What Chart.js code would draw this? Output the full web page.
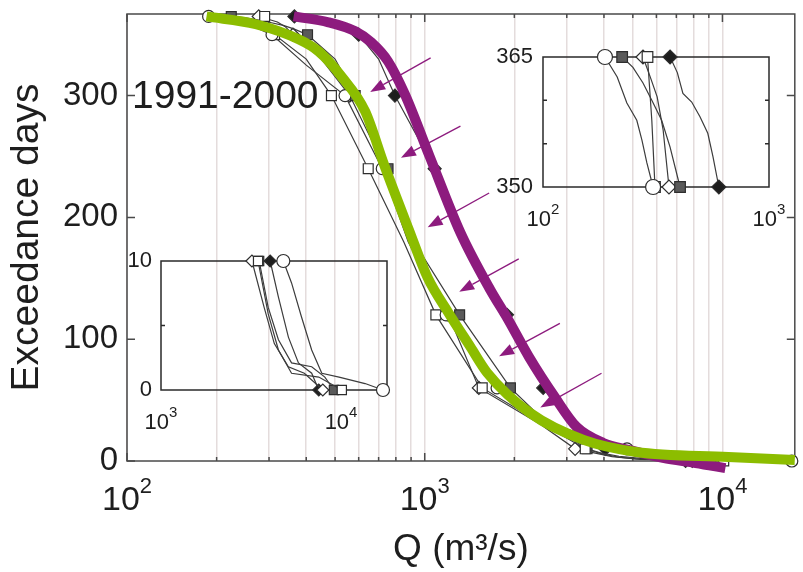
<!DOCTYPE html>
<html lang="en">
<head>
<meta charset="utf-8">
<title>Exceedance days 1991-2000</title>
<script src="https://cdn.jsdelivr.net/npm/chart.js@4.4.1/dist/chart.umd.min.js"></script>
<style>
    html, body { margin: 0; padding: 0; background: #ffffff; }
    #wrap { position: relative; width: 803px; height: 572px; overflow: hidden; }
    #wrap canvas { position: absolute; }
    #main { left: 0; top: 0; }
    #inset-high { left: 483px; top: 37px; }
    #inset-low { left: 100px; top: 241px; }
</style>
</head>
<body>
<div id="wrap">
    <canvas id="main" width="803" height="572"></canvas>
    <canvas id="inset-high" width="320" height="208"></canvas>
    <canvas id="inset-low" width="310" height="200"></canvas>
</div>
<script>
'use strict';

// days on which station markers are shown
const markerDays = [365, 350, 300, 240, 120, 60, 10, 0];

// station curves: discharge (m3/s) vs exceedance days
const circleQ = [188, 213, 235, 260, 274, 288, 307, 400, 540, 720, 880, 1180, 1450, 1750, 2700, 4780, 5310, 6020, 6870, 7820, 9750, 13600, 17100];
const circleDays = [365, 362.7, 359.7, 357.7, 355.4, 352.8, 350, 325, 300, 240, 180, 120, 85, 60, 30, 10, 8.3, 5.7, 3.1, 1.3, 1.0, 0.5, 0];

const squareQ = [290, 303, 313, 400, 486, 646, 850, 1090, 1560, 2500, 3460, 3940, 4490, 5310, 7520, 10100];
const squareDays = [365, 357.7, 350, 330, 300, 240, 180, 120, 60, 30, 10, 5.9, 3.1, 1.3, 1.0, 0];

const fsquareQ = [224, 250, 277, 303, 335, 365, 404, 500, 584, 753, 920, 1310, 1940, 2600, 3510, 3940, 4490, 5310, 6870, 8130, 9130];
const fsquareDays = [365, 363.8, 362, 360, 357.7, 354.6, 350, 330, 300, 240, 180, 120, 60, 30, 10, 6.4, 3.9, 2.1, 1.8, 1.0, 0];

const diamondQ = [277, 300, 320, 340, 361, 450, 560, 740, 900, 1200, 1520, 2450, 3200, 3740, 4260, 5100, 6250, 7920];
const diamondDays = [365, 362.5, 360.4, 356.6, 350, 330, 300, 240, 180, 120, 60, 30, 10, 6.4, 3.6, 1.8, 1.3, 0];

const kdiamondQ = [365, 393, 416, 455, 495, 536, 565, 600, 700, 794, 1080, 1400, 1890, 2500, 3100, 4040, 4490, 5100, 5800, 6870, 7520];
const kdiamondDays = [365, 363.2, 360.8, 359.8, 358.1, 356.2, 353.5, 350, 330, 300, 240, 180, 120, 60, 30, 10, 7.2, 4.1, 2.1, 1.3, 0];

// fitted curves
const greenQ = [185, 271, 377, 440, 525, 631, 730, 884, 1023, 1202, 1423, 1622, 2257, 3415, 5129, 10470, 17500];
const greenDays = [365, 358.6, 346.2, 336.3, 315.8, 287, 243.4, 190, 150.5, 121.7, 93.8, 72.4, 39.5, 17.3, 7.4, 3.3, 0.8];

const purpleQ = [363, 475, 584, 661, 753, 858, 1039, 1318, 1660, 1891, 2239, 2733, 3236, 3981, 4863, 6310, 8128, 10230];
const purpleDays = [365, 360.2, 352.8, 343.8, 328.1, 301, 250, 187.5, 140.6, 117.6, 85.5, 52.6, 28, 14.8, 9.0, 2.5, -1.6, -5.8];

// arrows (tail -> head)
const arrowFromQ = [1047, 1318, 1646, 2069, 2844, 3925];
const arrowFromDays = [331, 275, 220, 166, 113, 72];
const arrowToQ = [656, 832, 1023, 1306, 1778, 2444];
const arrowToDays = [303, 249, 192, 139, 86, 44];

// axes
const qDecades = [100, 1000, 10000];
const dayTicks = [0, 100, 200, 300];
const highDayTicks = [350, 365];
const lowDayTicks = [0, 10];

const purple = '#8d1b7e';
const green = '#8cbd00';
const ink = '#1e1e1e';

Chart.defaults.font.family = '"Liberation Sans", Arial, Helvetica, sans-serif';
Chart.defaults.color = ink;

let stations = [
    { q: circleQ, days: circleDays, marker: 'circle', fill: '#ffffff' },
    { q: squareQ, days: squareDays, marker: 'rect', fill: '#ffffff' },
    { q: fsquareQ, days: fsquareDays, marker: 'rect', fill: '#5a5a5a' },
    { q: diamondQ, days: diamondDays, marker: 'rectRot', fill: '#ffffff' },
    { q: kdiamondQ, days: kdiamondDays, marker: 'rectRot', fill: '#1e1e1e' }
];

function toPoints(q, days) {
    return q.map((v, i) => ({ x: v, y: days[i] }));
}

// minor log grid values 1..9 x 10^n inside [min, max]
function logGrid(min, max) {
    let out = [];
    qDecades.forEach(function(d) {
        for (let k = 1; k <= 9; k++) {
            let v = d * k;
            if (v >= min && v <= max) out.push(v);
        }
    });
    return out;
}

function stationDatasets(keep, size) {
    return stations.map(function(s) {
        return {
            data: toPoints(s.q, s.days).filter(p => keep(p.y)),
            borderColor: '#3c3c3c',
            borderWidth: 1.2,
            pointStyle: s.marker,
            pointBackgroundColor: s.fill,
            pointBorderColor: '#2e2e2e',
            pointBorderWidth: 1.2,
            pointRadius: ctx => (ctx.raw && markerDays.includes(ctx.raw.y)) ? size[s.marker] : 0,
            pointHoverRadius: 0,
            tension: 0,
            clip: false,
            order: 2
        };
    });
}

// frame, inward ticks and 10^n labels
function axisDecor(o) {
    return {
        id: 'axisDecor',
        beforeDatasetsDraw(chart) {
            const { ctx, chartArea: a, scales: { x, y } } = chart;
            ctx.save();
            ctx.strokeStyle = o.frameColor;
            ctx.lineWidth = o.frameWidth;
            ctx.strokeRect(a.left, a.top, a.right - a.left, a.bottom - a.top);
            ctx.beginPath();
            o.xTicks.forEach(function(v) {
                let px = x.getPixelForValue(v);
                let len = qDecades.includes(v) ? o.majorLen : o.minorLen;
                ctx.moveTo(px, a.bottom); ctx.lineTo(px, a.bottom - len);
                ctx.moveTo(px, a.top); ctx.lineTo(px, a.top + len);
            });
            o.yTicks.forEach(function(v) {
                let py = y.getPixelForValue(v);
                ctx.moveTo(a.left, py); ctx.lineTo(a.left + o.majorLen, py);
                ctx.moveTo(a.right, py); ctx.lineTo(a.right - o.majorLen, py);
            });
            ctx.stroke();
            ctx.restore();
        },
        afterDraw(chart) {
            const { ctx, chartArea: a, scales: { x } } = chart;
            ctx.save();
            ctx.fillStyle = ink;
            ctx.textBaseline = 'alphabetic';
            ctx.textAlign = 'left';
            o.xLabels.forEach(function(v) {
                let px = x.getPixelForValue(v);
                let exp = String(Math.round(Math.log10(v)));
                ctx.font = o.baseSize + 'px ' + Chart.defaults.font.family;
                let wb = ctx.measureText('10').width;
                ctx.font = o.expSize + 'px ' + Chart.defaults.font.family;
                let we = ctx.measureText(exp).width;
                let start = px - (wb + we) / 2;
                let base = a.bottom + o.drop;
                ctx.font = o.baseSize + 'px ' + Chart.defaults.font.family;
                ctx.fillText('10', start, base);
                ctx.font = o.expSize + 'px ' + Chart.defaults.font.family;
                ctx.fillText(exp, start + wb, base - o.rise);
            });
            ctx.restore();
        }
    };
}

// period label and arrows on the main plot
let mainNotes = {
    id: 'mainNotes',
    afterDatasetsDraw(chart) {
        const { ctx, chartArea: a, scales: { x, y } } = chart;
        ctx.save();
        ctx.fillStyle = ink;
        ctx.font = '39px ' + Chart.defaults.font.family;
        ctx.textBaseline = 'middle';
        ctx.fillText('1991-2000', a.left + 5, y.getPixelForValue(300) + 2);

        ctx.strokeStyle = purple;
        ctx.fillStyle = purple;
        ctx.lineWidth = 1.3;
        arrowFromQ.forEach(function(q, i) {
            let x0 = x.getPixelForValue(q), y0 = y.getPixelForValue(arrowFromDays[i]);
            let x1 = x.getPixelForValue(arrowToQ[i]), y1 = y.getPixelForValue(arrowToDays[i]);
            let ang = Math.atan2(y1 - y0, x1 - x0);
            let head = 15, half = 5.5;
            let bx = x1 - head * Math.cos(ang), by = y1 - head * Math.sin(ang);
            ctx.beginPath();
            ctx.moveTo(x0, y0);
            ctx.lineTo(bx, by);
            ctx.stroke();
            ctx.beginPath();
            ctx.moveTo(x1, y1);
            ctx.lineTo(bx + half * Math.sin(ang), by - half * Math.cos(ang));
            ctx.lineTo(bx - half * Math.sin(ang), by + half * Math.cos(ang));
            ctx.closePath();
            ctx.fill();
        });
        ctx.restore();
    }
};

/* Main plot */
let mainX = { min: 100, max: 17500 };

let mainChart = new Chart(document.getElementById('main'), {
    type: 'line',
    data: {
        datasets: [{
            data: toPoints(greenQ, greenDays),
            borderColor: green,
            borderWidth: 10,
            pointRadius: 0,
            cubicInterpolationMode: 'monotone',
            clip: false,
            order: 0
        }, {
            data: toPoints(purpleQ, purpleDays),
            borderColor: purple,
            borderWidth: 10,
            pointRadius: 0,
            cubicInterpolationMode: 'monotone',
            clip: false,
            order: 1
        }].concat(stationDatasets(() => true, { circle: 6, rect: 7, rectRot: 6.5 }))
    },
    options: {
        responsive: false,
        animation: false,
        layout: { padding: { top: 14, right: 3, left: 0, bottom: 0 } },
        plugins: { legend: { display: false }, tooltip: { enabled: false } },
        scales: {
            x: {
                type: 'logarithmic',
                min: mainX.min,
                max: mainX.max,
                afterBuildTicks: s => { s.ticks = logGrid(mainX.min, mainX.max).map(v => ({ value: v })); },
                afterFit: s => { s.height = 111; s.paddingLeft = 0; s.paddingRight = 0; },
                ticks: { display: false },
                grid: { color: '#e4dcdc', lineWidth: 1.5, drawTicks: false },
                border: { display: false },
                title: {
                    display: true,
                    text: 'Q (m³/s)',
                    font: { size: 37, lineHeight: 1.2 },
                    color: ink,
                    padding: { top: 0, bottom: 0 }
                }
            },
            y: {
                min: 0,
                max: 367,
                afterBuildTicks: s => { s.ticks = dayTicks.map(v => ({ value: v })); },
                afterFit: s => { s.width = 127; s.paddingTop = 0; s.paddingBottom = 0; },
                ticks: { font: { size: 33 }, color: ink, padding: 9 },
                grid: { display: false, drawTicks: false },
                border: { display: false },
                title: {
                    display: true,
                    text: 'Exceedance days',
                    font: { size: 39, lineHeight: 1.2 },
                    color: ink,
                    padding: { top: 4, bottom: 0 }
                }
            }
        }
    },
    plugins: [axisDecor({
        frameColor: '#4a4a4a', frameWidth: 1.5,
        xTicks: logGrid(mainX.min, mainX.max), yTicks: dayTicks,
        majorLen: 8, minorLen: 4,
        xLabels: qDecades, baseSize: 34, expSize: 22, drop: 49, rise: 17
    }), mainNotes]
});

/* Insets */
function makeInset(id, keep, cfg) {
    return new Chart(document.getElementById(id), {
        type: 'line',
        data: { datasets: stationDatasets(keep, cfg.marker) },
        options: {
            responsive: false,
            animation: false,
            layout: { padding: cfg.padding },
            plugins: { legend: { display: false }, tooltip: { enabled: false } },
            scales: {
                x: {
                    type: 'logarithmic',
                    min: cfg.xMin,
                    max: cfg.xMax,
                    afterBuildTicks: s => { s.ticks = cfg.xLabels.map(v => ({ value: v })); },
                    afterFit: s => { s.height = cfg.xHeight; s.paddingLeft = 0; s.paddingRight = 0; },
                    ticks: { display: false },
                    grid: { display: false, drawTicks: false },
                    border: { display: false }
                },
                y: {
                    min: cfg.yMin,
                    max: cfg.yMax,
                    afterBuildTicks: s => { s.ticks = cfg.yLabels.map(v => ({ value: v })); },
                    afterFit: s => { s.width = cfg.yWidth; s.paddingTop = 0; s.paddingBottom = 0; },
                    ticks: { font: { size: 22 }, color: ink, padding: cfg.labelPad },
                    grid: { display: false, drawTicks: false },
                    border: { display: false }
                }
            }
        },
        plugins: [axisDecor({
            frameColor: '#2a2a2a', frameWidth: 1.5,
            xTicks: [], yTicks: cfg.yInner,
            majorLen: 4, minorLen: 3,
            xLabels: cfg.xLabels, baseSize: 22, expSize: 15, drop: 39, rise: 12
        })]
    });
}

let insetHigh = makeInset('inset-high', d => d >= 350, {
    xMin: 100, xMax: 1000, yMin: 350, yMax: 365,
    xLabels: [100, 1000], yLabels: highDayTicks, yInner: [355, 360],
    padding: { top: 20, right: 34, left: 0, bottom: 0 },
    yWidth: 60, xHeight: 58, labelPad: 10,
    marker: { circle: 7.5, rect: 7.5, rectRot: 7 }
});

let insetLow = makeInset('inset-low', d => d <= 10, {
    xMin: 1000, xMax: 18000, yMin: 0, yMax: 10,
    xLabels: [1000, 10000], yLabels: lowDayTicks, yInner: [5],
    padding: { top: 20, right: 23, left: 0, bottom: 0 },
    yWidth: 61, xHeight: 51, labelPad: 9,
    marker: { circle: 6.5, rect: 6.5, rectRot: 6 }
});
</script>
</body>
</html>
